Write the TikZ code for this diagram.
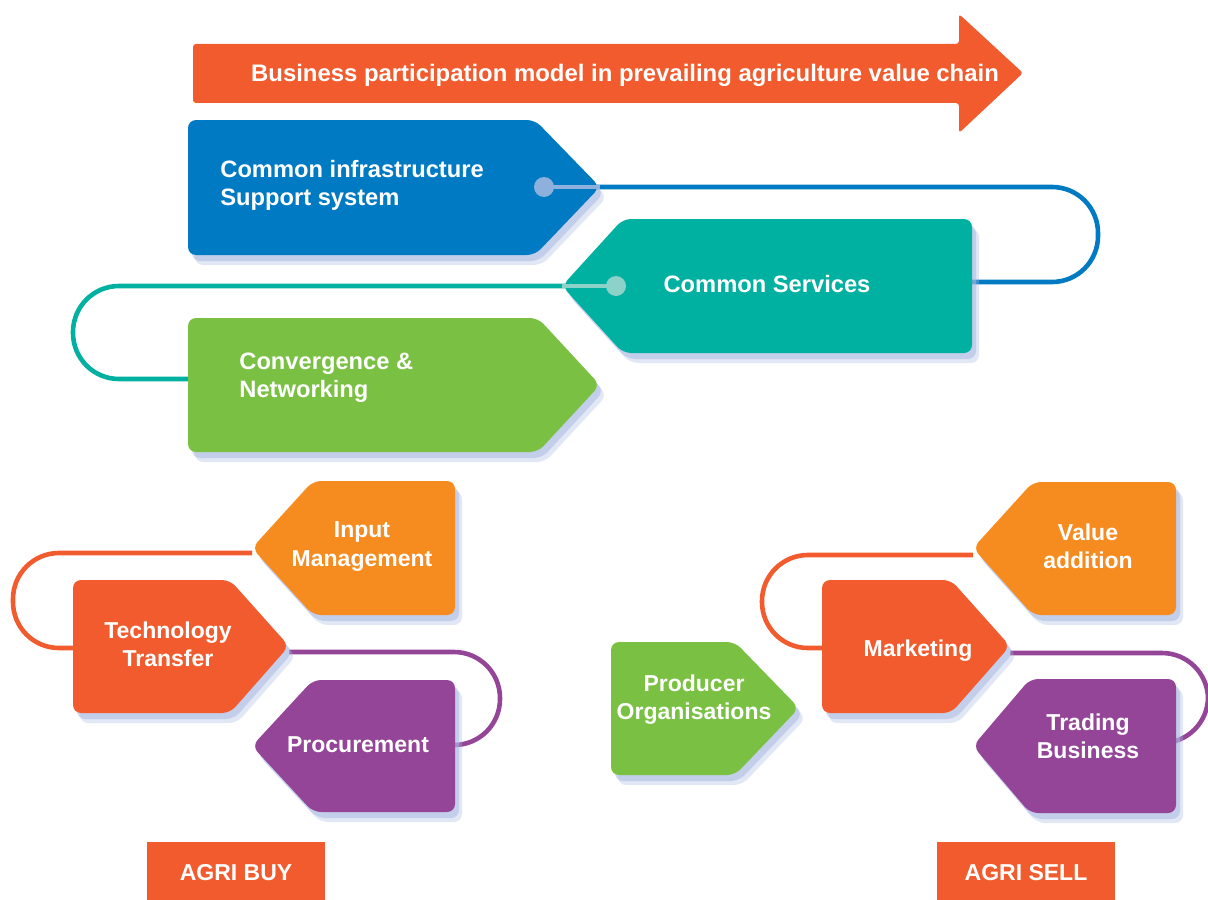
\documentclass[tikz,border=0pt]{standalone}
\usepackage{fontspec}
\setmainfont{Liberation Sans}
\usetikzlibrary{shadows}

\definecolor{chainred}{RGB}{241,91,45}
\definecolor{infrablue}{RGB}{0,122,194}
\definecolor{serviceteal}{RGB}{0,176,160}
\definecolor{leafgreen}{RGB}{122,193,67}
\definecolor{inputorange}{RGB}{246,139,31}
\definecolor{tradepurple}{RGB}{148,69,152}
\definecolor{pinblue}{RGB}{141,176,221}
\definecolor{pinteal}{RGB}{140,210,200}
\definecolor{shade}{RGB}{170,185,225}

\tikzset{
  tag/.style={rounded corners=4pt,
    drop shadow={shadow xshift=3.5pt,shadow yshift=-5pt,fill=shade,opacity=.35},
    drop shadow={shadow xshift=2pt,shadow yshift=-3pt,fill=shade,opacity=.55}},
  loop/.style={line width=2.3pt,rounded corners=23pt},
  pin/.style={line width=2.3pt},
  toptext/.style={text=white,inner sep=0pt,align=left,
    font=\bfseries\fontsize{11.85}{14}\selectfont},
  tagtext/.style={text=white,inner sep=0pt,align=center,
    font=\bfseries\fontsize{11.5}{14.2}\selectfont},
  agribox/.style={fill=chainred,text=white,minimum width=89pt,minimum height=31pt,
    font=\bfseries\fontsize{11.5}{13}\selectfont}
}

\begin{document}
\begin{tikzpicture}[x=0.5pt,y=-0.5pt]
\useasboundingbox (0,0) rectangle (1208,899);

% value chain arrow
\fill[chainred,rounded corners=1.5pt] (193,44) -- (959,44) -- (959,14) -- (1023,73)
  -- (959,133) -- (959,103) -- (193,103) -- cycle;
\node[text=white,inner sep=0pt,anchor=base,font=\bfseries\fontsize{11.95}{14}\selectfont]
  (chain) at (625,82) {Business participation model in prevailing agriculture value chain};

% ends of the loops
\coordinate (infra-pin) at (544,187);
\coordinate (infra-tip) at (600,187);
\coordinate (services-pin) at (616,286);
\coordinate (services-tip) at (562,286);
\coordinate (services-back) at (972,282);
\coordinate (converge-in) at (188,379);
\coordinate (input-tip) at (252,553);
\coordinate (techno-in) at (73,648);
\coordinate (techno-tip) at (289,652);
\coordinate (procure-in) at (440,745);
\coordinate (value-tip) at (973,555);
\coordinate (market-in) at (822,648);
\coordinate (market-tip) at (1010,653);
\coordinate (trading-in) at (1160,743);

% loops
\draw[loop,infrablue] (infra-pin) -- (1098,187) -- (1098,282) -- (services-back);
\draw[loop,serviceteal] (services-pin) -- (73,286) -- (73,379) -- (converge-in);
\draw[loop,chainred] (input-tip) -- (13,553) -- (13,648) -- (techno-in);
\draw[loop,tradepurple] (techno-tip) -- (500,652) -- (500,745) -- (procure-in);
\draw[loop,chainred] (value-tip) -- (762,555) -- (762,648) -- (market-in);
\draw[loop,tradepurple] (market-tip) -- (1208,653) -- (1208,743) -- (trading-in);

% common layer
\fill[tag,infrablue] (188,120) -- (535,120) -- (600,187) -- (535,255) -- (188,255) -- cycle;
\fill[tag,serviceteal] (623,219) -- (972,219) -- (972,353) -- (623,353) -- (562,286) -- cycle;
\fill[tag,leafgreen] (188,318) -- (538,318) -- (600,385) -- (538,452) -- (188,452) -- cycle;

% agri buy
\fill[tag,inputorange] (313,481) -- (455,481) -- (455,615) -- (313,615) -- (252,548) -- cycle;
\fill[tag,chainred] (73,580) -- (230,580) -- (289,646) -- (230,713) -- (73,713) -- cycle;
\fill[tag,tradepurple] (313,680) -- (455,680) -- (455,812) -- (313,812) -- (252,746) -- cycle;

% agri sell
\fill[tag,leafgreen] (611,642) -- (735,642) -- (799,708) -- (735,775) -- (611,775) -- cycle;
\fill[tag,chainred] (822,580) -- (951,580) -- (1010,646) -- (951,713) -- (822,713) -- cycle;
\fill[tag,inputorange] (1033,482) -- (1176,482) -- (1176,615) -- (1033,615) -- (973,548) -- cycle;
\fill[tag,tradepurple] (1030,679) -- (1176,679) -- (1176,813) -- (1030,813) -- (973,746) -- cycle;

% pins
\draw[pin,pinblue] (infra-pin) -- (infra-tip);
\fill[pinblue] (infra-pin) circle (5pt);
\draw[pin,pinteal] (services-pin) -- (services-tip);
\fill[pinteal] (services-pin) circle (5pt);

\node[toptext,anchor=north west] (infra) at (220,159.8) {Common infrastructure\\Support system};
\node[toptext,anchor=base] (services) at (767,292) {Common Services};
\node[toptext,anchor=north west] (converge) at (239,352.6) {Convergence \&\\Networking};

\node[tagtext,anchor=north] (input) at (362,521.4) {Input\\Management};
\node[tagtext,anchor=north] (techno) at (168,621.4) {Technology\\Transfer};
\node[tagtext,anchor=base] (procure) at (358,752) {Procurement};

\node[tagtext,anchor=north] (producer) at (694,674.4) {Producer\\Organisations};
\node[tagtext,anchor=base] (market) at (918,656) {Marketing};
\node[tagtext,anchor=north] (value) at (1088,523.4) {Value\\addition};
\node[tagtext,anchor=north] (trading) at (1088,713.4) {Trading\\Business};

\node[agribox] (buy) at (236,873) {AGRI BUY};
\node[agribox] (sell) at (1026,873) {AGRI SELL};
\end{tikzpicture}
\end{document}
